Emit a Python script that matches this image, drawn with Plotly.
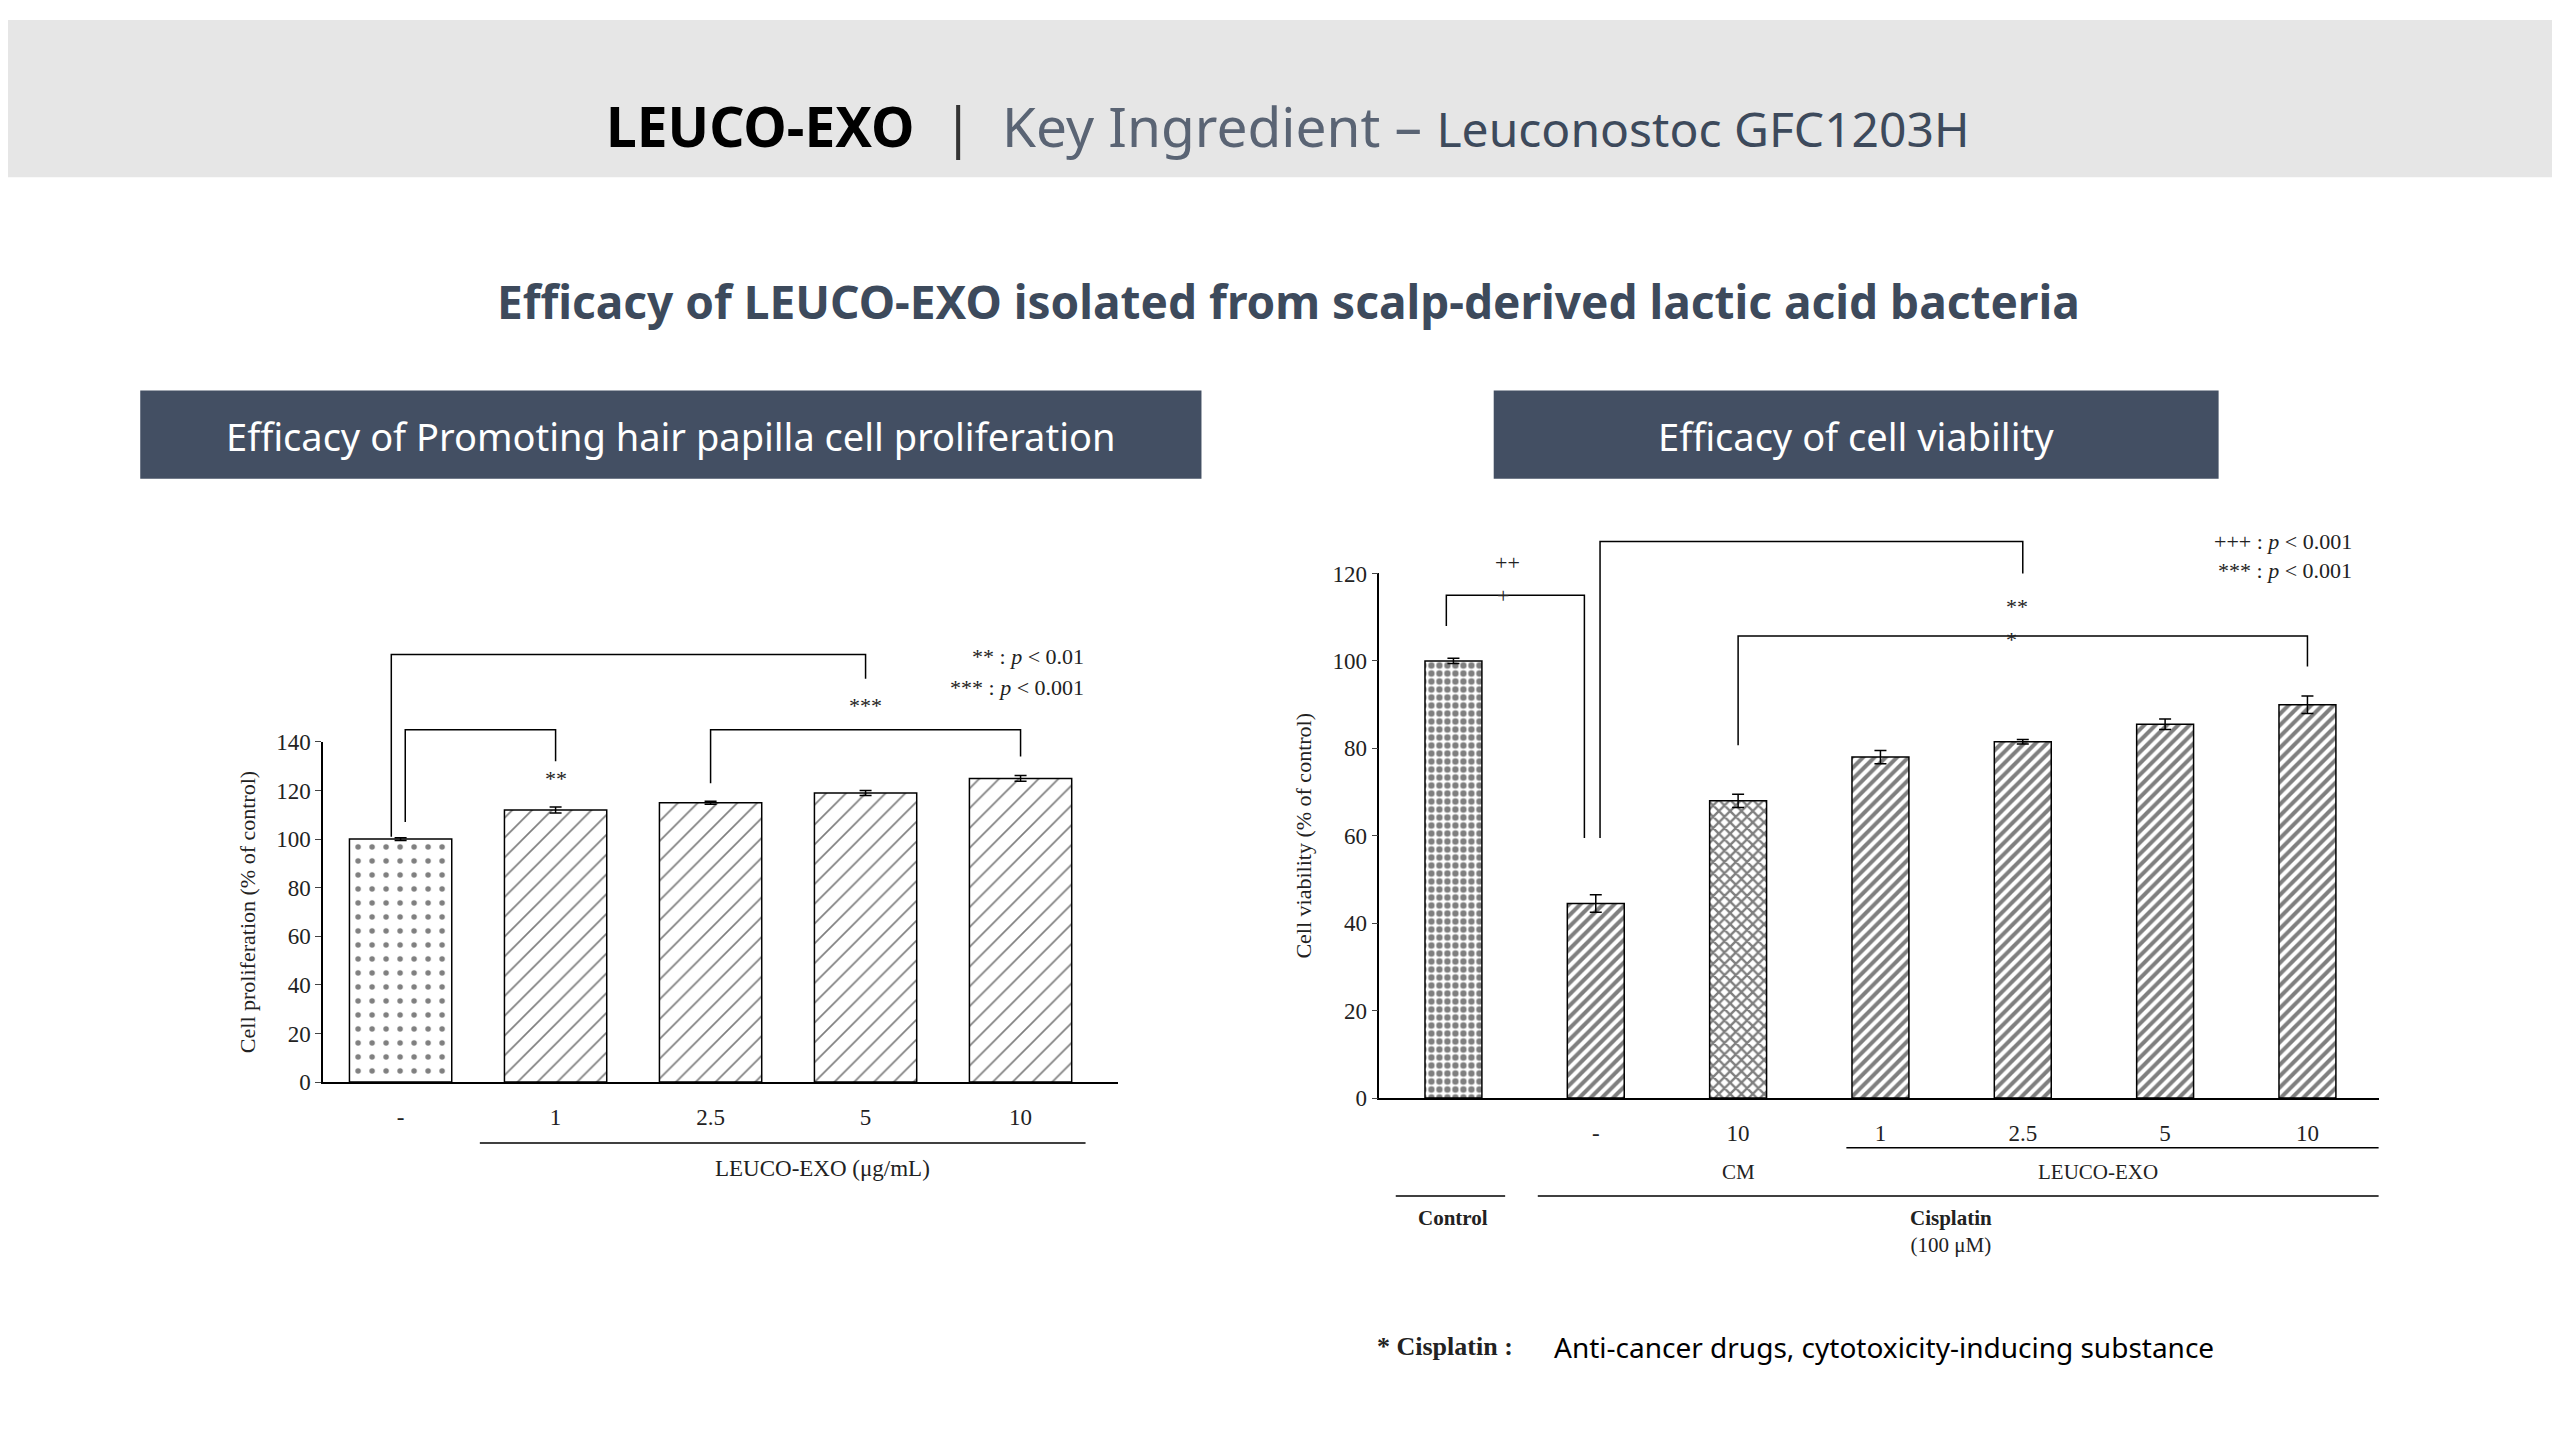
import plotly.graph_objects as go

# ---- data ----
prolif_x = [0, 1, 2, 3, 4]
prolif_labels = ["-", "1", "2.5", "5", "10"]
prolif_vals = [100, 112, 115, 119, 125]
prolif_err = [0.6, 1.2, 0.6, 1.0, 1.2]
prolif_pattern = [".", "/", "/", "/", "/"]

viab_x = [0, 1, 2, 3, 4, 5, 6]
viab_labels = ["", "-", "10", "1", "2.5", "5", "10"]
viab_vals = [100, 44.5, 68, 78, 81.5, 85.5, 90]
viab_err = [0.6, 2.0, 1.5, 1.5, 0.5, 1.2, 2.0]
viab_pattern = [".", "/", "x", "/", "/", "/", "/"]

W, H = 1568.0, 882.0  # reference layout units


def px(x):
    return x / W


def py(y):
    return 1 - y / H


SERIF = "Liberation Serif"
SANS = "Noto Sans"
NAVY = "#434f63"

# axis placement (reference units)
L_XDOM, L_XR = (193, 680), (-0.5, 4.63)
L_YDOM, L_YR = (662, 450), (0, 140)
R_XDOM, R_XR = (840, 1452), (-0.52, 6.5)
R_YDOM, R_YR = (672, 345), (0, 120)


def mapper(xdom, xr, ydom, yr):
    def fx(v):
        return px(xdom[0] + (v - xr[0]) / (xr[1] - xr[0]) * (xdom[1] - xdom[0]))

    def fy(v):
        return py(ydom[0] + (v - yr[0]) / (yr[1] - yr[0]) * (ydom[1] - ydom[0]))
    return fx, fy


Lx, Ly = mapper(L_XDOM, L_XR, L_YDOM, L_YR)
Rx, Ry = mapper(R_XDOM, R_XR, R_YDOM, R_YR)

fig = go.Figure()

fig.add_trace(go.Bar(
    x=prolif_x, y=prolif_vals, width=0.66, xaxis="x", yaxis="y",
    error_y=dict(type="data", array=prolif_err, color="black", thickness=1.5, width=6),
    marker=dict(color="white", line=dict(color="black", width=1.5),
                pattern=dict(shape=prolif_pattern, fgcolor="black", bgcolor="white", size=14, solidity=0.12)),
    showlegend=False))

fig.add_trace(go.Bar(
    x=viab_x, y=viab_vals, width=0.4, xaxis="x2", yaxis="y2",
    error_y=dict(type="data", array=viab_err, color="black", thickness=1.5, width=6),
    marker=dict(color="white", line=dict(color="black", width=1.5),
                pattern=dict(shape=viab_pattern, fgcolor="black", bgcolor="white", size=8, solidity=0.5)),
    showlegend=False))

tickfont = dict(family=SERIF, size=23, color="#222")
fig.update_layout(
    width=2560, height=1440, margin=dict(l=0, r=0, t=0, b=0),
    paper_bgcolor="white", plot_bgcolor="white",
    xaxis=dict(domain=[px(L_XDOM[0]), px(L_XDOM[1])], range=list(L_XR), tickvals=prolif_x, ticktext=prolif_labels,
               showline=True, linecolor="black", linewidth=1.5, ticks="", showgrid=False,
               tickfont=tickfont, ticklabelstandoff=14),
    yaxis=dict(domain=[py(L_YDOM[0]), py(L_YDOM[1])], range=list(L_YR), dtick=20, showline=True, linecolor="black",
               linewidth=1.5, ticks="outside", ticklen=6, showgrid=False, tickfont=tickfont,
               title=dict(text="Cell proliferation (% of control)", font=dict(family=SERIF, size=22, color="#222"))),
    xaxis2=dict(domain=[px(R_XDOM[0]), px(R_XDOM[1])], range=list(R_XR), tickvals=viab_x, ticktext=viab_labels,
                anchor="y2", showline=True, linecolor="black", linewidth=1.5, ticks="", showgrid=False,
                tickfont=tickfont, ticklabelstandoff=14),
    yaxis2=dict(domain=[py(R_YDOM[0]), py(R_YDOM[1])], range=list(R_YR), dtick=20, anchor="x2", showline=True,
                linecolor="black", linewidth=1.5, ticks="outside", ticklen=6, showgrid=False, tickfont=tickfont,
                title=dict(text="Cell viability (% of control)", font=dict(family=SERIF, size=22, color="#222"))),
)

shapes = []
ann = []


def note(x, y, s, font, xanchor="center"):
    ann.append(dict(xref="paper", yref="paper", x=x, y=y, text=s, showarrow=False,
                    xanchor=xanchor, yanchor="middle", font=font))


# header band and boxes
shapes.append(dict(type="rect", xref="paper", yref="paper", x0=0, x1=1, y0=py(98), y1=1,
                   fillcolor="#e6e6e6", line=dict(width=0), layer="below"))
shapes.append(dict(type="rect", xref="paper", yref="paper", x0=px(81), x1=px(731), y0=py(286), y1=py(231),
                   fillcolor=NAVY, line=dict(width=0)))
shapes.append(dict(type="rect", xref="paper", yref="paper", x0=px(910), x1=px(1354), y0=py(286), y1=py(231),
                   fillcolor=NAVY, line=dict(width=0)))

note(0.5, py(66),
     "<b>LEUCO-EXO</b>  <span style='color:#333'>|</span>  <span style='color:#5a6474'>Key Ingredient – </span>"
     "<span style='color:#3d4a5c;font-size:48px'>Leuconostoc GFC1203H</span>",
     dict(family=SANS, size=55, color="black"))
note(0.5, py(175), "<b>Efficacy of LEUCO-EXO isolated from scalp-derived lactic acid bacteria</b>",
     dict(family=SANS, size=46, color="#3d4a5c"))
note(px(406), py(259), "Efficacy of Promoting hair papilla cell proliferation",
     dict(family=SANS, size=38, color="white"))
note(px(1132), py(259), "Efficacy of cell viability", dict(family=SANS, size=38, color="white"))

serif = dict(family=SERIF, size=22, color="#222")


def bracket(fx, fy, xa, ya, xb, yb, top):
    shapes.append(dict(type="path", xref="paper", yref="paper",
                       path=f"M {fx(xa)},{fy(ya)} L {fx(xa)},{fy(top)} L {fx(xb)},{fy(top)} L {fx(xb)},{fy(yb)}",
                       line=dict(color="black", width=1.5)))


# left chart brackets
bracket(Lx, Ly, -0.06, 101, 3.0, 166, 176)
bracket(Lx, Ly, 0.03, 107, 1.0, 132, 145)
bracket(Lx, Ly, 2.0, 123, 4.0, 134, 145)
note(Lx(3.0), Ly(155), "***", serif)
note(Lx(1.0), Ly(125), "**", serif)
note(px(660), py(397), "** : <i>p</i> < 0.01", serif, "right")
note(px(660), py(416), "*** : <i>p</i> < 0.001", serif, "right")
shapes.append(dict(type="line", xref="paper", yref="paper", x0=px(289), x1=px(660), y0=py(700), y1=py(700),
                   line=dict(color="black", width=1.5)))
note(px(499), py(716), "LEUCO-EXO (μg/mL)", dict(family=SERIF, size=23, color="#222"))

# right chart brackets
bracket(Rx, Ry, -0.05, 108, 0.92, 59.5, 115)
bracket(Rx, Ry, 1.03, 59.5, 4.0, 120, 127.3)
bracket(Rx, Ry, 2.0, 80.7, 6.0, 98.7, 105.7)
note(Rx(0.38), Ry(122.5), "++", serif)
note(Rx(0.35), Ry(115), "+", serif)
note(Rx(3.96), Ry(112.5), "**", serif)
note(Rx(3.92), Ry(105.0), "*", serif)
note(px(1437), py(325), "+++ : <i>p</i> < 0.001", serif, "right")
note(px(1437), py(343), "*** : <i>p</i> < 0.001", serif, "right")
for x0, x1, y in [(1126, 1452, 703), (850, 917, 733), (937, 1452, 733)]:
    shapes.append(dict(type="line", xref="paper", yref="paper", x0=px(x0), x1=px(x1), y0=py(y), y1=py(y),
                       line=dict(color="black", width=1.5)))
small = dict(family=SERIF, size=21, color="#222")
note(px(1060), py(718), "CM", small)
note(px(1280), py(718), "LEUCO-EXO", small)
note(px(885), py(747), "<b>Control</b>", small)
note(px(1190), py(755), "<b>Cisplatin</b><br>(100 μM)", small)

# footnote
note(px(837), py(827), "<b>* Cisplatin :</b>", dict(family=SERIF, size=26, color="#222"), "left")
note(px(946), py(827), "Anti-cancer drugs, cytotoxicity-inducing substance",
     dict(family=SANS, size=28, color="black"), "left")

fig.update_layout(shapes=shapes, annotations=ann)
fig.write_html("out.html")
